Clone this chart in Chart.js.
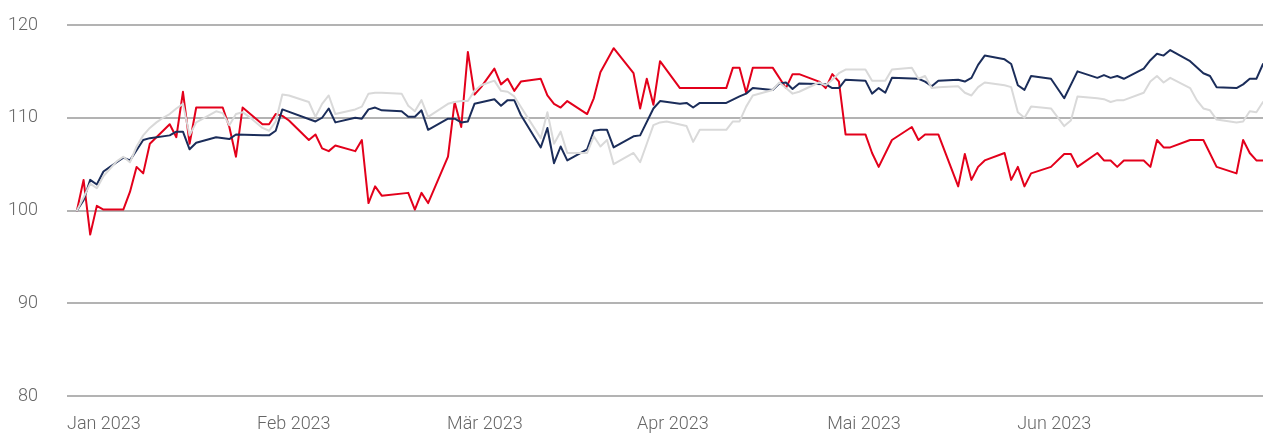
<!DOCTYPE html>
<html>
<head>
<meta charset="utf-8">
<script src="https://cdn.jsdelivr.net/npm/chart.js@4/dist/chart.umd.min.js"></script>
<style>
html,body{margin:0;padding:0;background:#fff;}
#wrap{position:relative;width:1263px;height:439px;}
</style>
</head>
<body>
<div id="wrap"><canvas id="c"></canvas></div>
<script>
// Trading-day index (0 = first day of 2023 shown) and indexed value (start = 100)
const redSeries = [[0,100.0],[1,103.3],[2,97.4],[3,100.5],[4,100.1],[7,100.1],[8,102.0],[9,104.7],[10,104.0],[11,107.2],[14,109.3],[15,107.9],[16,112.8],[17,107.2],[18,111.1],[22,111.1],[23,109.0],[24,105.8],[25,111.1],[28,109.3],[29,109.3],[30,110.4],[31,110.2],[32,109.7],[35,107.6],[36,108.2],[37,106.7],[38,106.4],[39,107.0],[42,106.4],[43,107.6],[44,100.8],[45,102.6],[46,101.6],[50,101.9],[51,100.1],[52,101.9],[53,100.8],[56,105.8],[57,111.7],[58,109.0],[59,117.1],[60,112.5],[61,113.3],[62,114.3],[63,115.3],[64,113.6],[65,114.2],[66,112.9],[67,113.9],[70,114.2],[71,112.4],[72,111.5],[73,111.1],[74,111.8],[77,110.4],[78,112.1],[79,114.9],[81,117.5],[84,114.8],[85,111.0],[86,114.2],[87,111.4],[88,116.1],[91,113.2],[98,113.2],[99,115.4],[100,115.4],[101,112.7],[102,115.4],[105,115.4],[107,113.2],[108,114.7],[109,114.7],[112,113.9],[113,113.2],[114,114.7],[115,113.9],[116,108.2],[119,108.2],[120,106.2],[121,104.7],[123,107.6],[126,109.0],[127,107.6],[128,108.2],[130,108.2],[133,102.6],[134,106.1],[135,103.3],[136,104.7],[137,105.4],[140,106.2],[141,103.3],[142,104.7],[143,102.6],[144,104.0],[147,104.7],[149,106.1],[150,106.1],[151,104.7],[154,106.2],[155,105.4],[156,105.4],[157,104.7],[158,105.4],[161,105.4],[162,104.7],[163,107.6],[164,106.8],[165,106.8],[168,107.6],[170,107.6],[172,104.7],[175,104.0],[176,107.6],[177,106.2],[178,105.4],[179,105.4]];

const navySeries = [[0,100.0],[1,101.1],[2,103.3],[3,102.8],[4,104.2],[5,104.7],[6,105.2],[7,105.7],[8,105.4],[9,106.5],[10,107.6],[11,107.8],[14,108.1],[15,108.5],[16,108.5],[17,106.6],[18,107.3],[21,107.9],[23,107.7],[24,108.2],[28,108.1],[29,108.1],[30,108.6],[31,110.9],[36,109.6],[37,110.0],[38,111.0],[39,109.5],[42,110.0],[43,109.9],[44,110.9],[45,111.1],[46,110.8],[49,110.7],[50,110.1],[51,110.1],[52,110.8],[53,108.7],[56,109.9],[57,109.9],[58,109.5],[59,109.6],[60,111.5],[63,112.0],[64,111.3],[65,111.9],[66,111.9],[67,110.3],[70,106.8],[71,108.9],[72,105.1],[73,106.9],[74,105.4],[77,106.6],[78,108.6],[79,108.7],[80,108.7],[81,106.8],[84,108.0],[85,108.1],[87,111.0],[88,111.8],[91,111.5],[92,111.6],[93,111.1],[94,111.6],[98,111.6],[100,112.3],[101,112.6],[102,113.2],[105,113.0],[106,113.7],[107,113.8],[108,113.1],[109,113.7],[113,113.6],[114,113.2],[115,113.2],[116,114.1],[119,114.0],[120,112.6],[121,113.2],[122,112.7],[123,114.3],[127,114.2],[128,113.9],[129,113.4],[130,114.0],[133,114.1],[134,113.9],[135,114.3],[136,115.7],[137,116.7],[140,116.3],[141,115.8],[142,113.5],[143,113.0],[144,114.5],[147,114.2],[149,112.1],[151,115.0],[154,114.3],[155,114.6],[156,114.3],[157,114.5],[158,114.2],[161,115.3],[162,116.2],[163,116.9],[164,116.7],[165,117.3],[168,116.1],[170,114.8],[171,114.5],[172,113.3],[175,113.2],[176,113.6],[177,114.2],[178,114.2],[179,115.8]];

const greySeries = [[0,100.0],[1,101.4],[2,102.9],[3,102.4],[4,103.7],[6,105.3],[7,105.8],[8,105.2],[9,106.9],[10,108.1],[11,108.9],[12,109.5],[13,110.0],[14,110.4],[15,111.0],[16,111.5],[17,108.1],[18,109.5],[21,110.7],[22,110.5],[23,109.2],[24,110.4],[25,110.6],[26,110.1],[28,108.9],[29,108.6],[30,109.6],[31,112.5],[32,112.4],[35,111.7],[36,110.1],[37,111.5],[38,112.4],[39,110.4],[42,110.9],[43,111.2],[44,112.6],[45,112.7],[46,112.7],[49,112.6],[50,111.3],[51,110.7],[52,111.9],[53,110.1],[56,111.5],[57,111.7],[58,111.8],[59,111.8],[60,112.9],[61,113.5],[63,114.0],[64,112.9],[65,112.8],[66,112.3],[70,107.8],[71,110.6],[72,107.2],[73,108.5],[74,106.2],[77,106.2],[78,108.0],[79,106.9],[80,107.6],[81,105.0],[84,106.2],[85,105.2],[86,107.2],[87,109.2],[88,109.5],[89,109.6],[92,109.1],[93,107.4],[94,108.7],[98,108.7],[99,109.6],[100,109.6],[101,111.2],[102,112.4],[105,113.0],[106,113.8],[107,113.2],[108,112.6],[109,112.8],[112,113.8],[113,113.5],[114,114.1],[115,114.8],[116,115.2],[119,115.2],[120,114.0],[122,114.0],[123,115.2],[126,115.4],[127,114.2],[128,114.5],[129,113.2],[130,113.3],[133,113.4],[134,112.7],[135,112.4],[136,113.3],[137,113.8],[140,113.5],[141,113.3],[142,110.6],[143,110.0],[144,111.2],[147,111.0],[149,109.1],[150,109.7],[151,112.3],[154,112.1],[155,112.0],[156,111.7],[157,111.9],[158,111.9],[161,112.7],[162,113.9],[163,114.5],[164,113.8],[165,114.3],[168,113.2],[169,111.9],[170,111.0],[171,110.8],[172,109.8],[175,109.5],[176,109.6],[177,110.7],[178,110.6],[179,111.7]];

const monthLabels = ["Jan 2023","Feb 2023","Mär 2023","Apr 2023","Mai 2023","Jun 2023"];
const yTicks = [80, 90, 100, 110, 120];

const X_MIN = -1.5, X_MAX = 179, MONTH_STEP = 28.68;

const toXY = arr => arr.map(p => ({x: p[0], y: p[1]}));
const FONT = {family: "Roboto, 'DejaVu Sans', sans-serif", size: 18, weight: 300};

new Chart(document.getElementById('c'), {
  type: 'line',
  data: {
    datasets: [
      {label: 'Grau', data: toXY(greySeries), borderColor: '#d9d9d9', borderWidth: 2, order: 1},
      {label: 'Blau', data: toXY(navySeries), borderColor: '#1b2d5a', borderWidth: 2, order: 2},
      {label: 'Rot', data: toXY(redSeries), borderColor: '#e3001b', borderWidth: 2, order: 3}
    ]
  },
  options: {
    responsive: true,
    maintainAspectRatio: false,
    animation: false,
    layout: {padding: {top: 25, right: 0, bottom: 0, left: 0}},
    elements: {point: {radius: 0}, line: {tension: 0, borderJoinStyle: 'round', borderCapStyle: 'round'}},
    plugins: {legend: {display: false}, tooltip: {enabled: false}},
    scales: {
      x: {
        type: 'linear',
        min: X_MIN, max: X_MAX,
        grid: {display: false, drawTicks: false},
        border: {display: false},
        afterBuildTicks: s => { s.ticks = monthLabels.map((_, i) => ({value: X_MIN + i * MONTH_STEP})); },
        afterFit: s => { s.height = 43; },
        ticks: {
          autoSkip: false, maxRotation: 0, minRotation: 0, align: 'start',
          padding: 18, color: '#666666', font: FONT,
          callback: (v, i) => monthLabels[i]
        }
      },
      y: {
        min: 80, max: 120,
        afterBuildTicks: s => { s.ticks = yTicks.map(v => ({value: v})); },
        afterFit: s => { s.width = 67; },
        grid: {color: '#b3b3b3', lineWidth: 2, drawTicks: true, tickLength: 29, tickColor: 'rgba(0,0,0,0)'},
        border: {display: false},
        ticks: {padding: 0, color: '#666666', font: FONT}
      }
    }
  }
});
</script>
</body>
</html>
